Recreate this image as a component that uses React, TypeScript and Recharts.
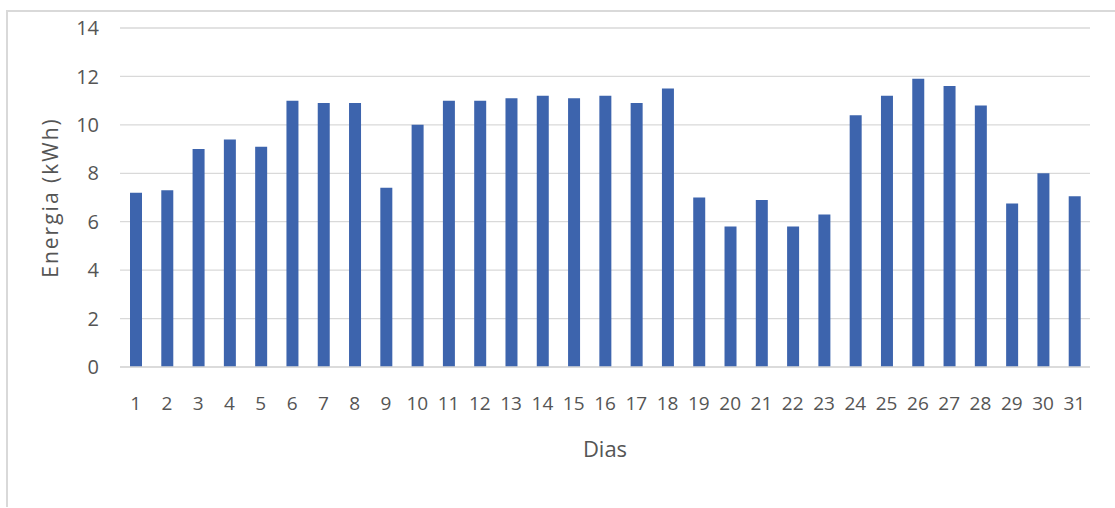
import { BarChart, Bar, XAxis, YAxis, CartesianGrid, Label } from 'recharts';

const days = [
  '1', '2', '3', '4', '5', '6', '7', '8', '9', '10',
  '11', '12', '13', '14', '15', '16', '17', '18', '19', '20',
  '21', '22', '23', '24', '25', '26', '27', '28', '29', '30', '31',
];

const energy = [
  7.2, 7.3, 9.0, 9.4, 9.1, 11.0, 10.9, 10.9, 7.4, 10.0,
  11.0, 11.0, 11.1, 11.2, 11.1, 11.2, 10.9, 11.5, 7.0, 5.8,
  6.9, 5.8, 6.3, 10.4, 11.2, 11.9, 11.6, 10.8, 6.75, 8.0, 7.05,
];

const yTicks = [0, 2, 4, 6, 8, 10, 12, 14];

const data = days.map((d, i) => ({ dia: d, energia: energy[i] }));

const TEXT = '#555555';
const GRID = '#d9d9d9';
const BAR = '#3d64ad';
const FONT = '"Open Sans", sans-serif';

export default function App() {
  return (
    <div style={{ position: 'absolute', left: 0, top: 0, width: 1115, height: 508, background: '#fff', fontFamily: FONT }}>
      <div
        style={{
          position: 'absolute',
          left: 6,
          top: 10,
          width: 1109,
          height: 495,
          borderTop: `2px solid ${GRID}`,
          borderLeft: `2px solid ${GRID}`,
        }}
      />
      <div style={{ position: 'absolute', left: 0, top: 0 }}>
        <BarChart
          width={1115}
          height={508}
          data={data}
          margin={{ top: 28, right: 25, bottom: 111, left: 20 }}
          barCategoryGap={0}
        >
          <CartesianGrid vertical={false} stroke={GRID} strokeWidth={1.3} />
          <XAxis
            dataKey="dia"
            height={30}
            interval={0}
            tickLine={false}
            tickSize={0}
            tickMargin={30}
            axisLine={{ stroke: GRID, strokeWidth: 1.3 }}
            tick={{ fill: TEXT, fontSize: 19, fontFamily: FONT }}
          >
            <Label
              content={({ viewBox }: any) => (
                <text
                  x={viewBox.x + viewBox.width / 2}
                  y={viewBox.y + 81}
                  textAnchor="middle"
                  dominantBaseline="central"
                  fill={TEXT}
                  fontSize={22}
                  fontFamily={FONT}
                >
                  Dias
                </text>
              )}
            />
          </XAxis>
          <YAxis
            width={100}
            domain={[0, 14]}
            ticks={yTicks}
            interval={0}
            tickLine={false}
            tickSize={0}
            tickMargin={21}
            axisLine={false}
            tick={{ fill: TEXT, fontSize: 20, fontFamily: FONT }}
          >
            <Label
              content={({ viewBox }: any) => {
                const cx = 50;
                const cy = viewBox.y + viewBox.height / 2;
                return (
                  <text
                    x={cx}
                    y={cy}
                    textAnchor="middle"
                    dominantBaseline="central"
                    transform={`rotate(-90, ${cx}, ${cy})`}
                    fill={TEXT}
                    fontSize={21}
                    fontFamily={FONT}
                    letterSpacing={2}
                  >
                    Energia (kWh)
                  </text>
                );
              }}
            />
          </YAxis>
          <Bar dataKey="energia" fill={BAR} barSize={12} isAnimationActive={false} />
        </BarChart>
      </div>
    </div>
  );
}
